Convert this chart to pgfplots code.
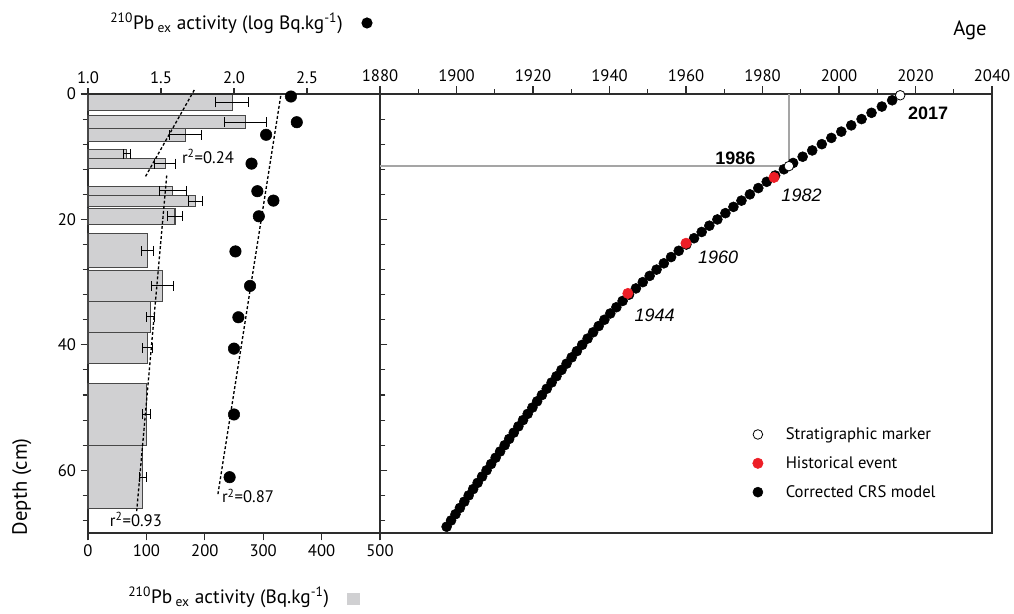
\documentclass[border=0pt]{standalone}
\usepackage{fontspec}
\setmainfont{PT Sans}
\newfontfamily\yearfont{Liberation Sans}
\usepackage{pgfplots}
\usepackage{pgfplotstable}
\pgfplotsset{compat=1.18}

\definecolor{barfill}{RGB}{208,208,210}
\definecolor{baredge}{RGB}{72,72,72}
\definecolor{evred}{RGB}{237,30,38}
\definecolor{axgray}{RGB}{45,45,45}
\definecolor{guide}{RGB}{165,165,165}

\newcommand{\fs}{\fontsize{12.5}{15}\selectfont}
\newcommand{\fl}{\fontsize{15.5}{18}\selectfont}
\newcommand{\ft}{\fontsize{14.5}{17}\selectfont}

% 210Pb_ex activity per slice: depth top/bottom (cm), mid depth, activity (Bq/kg), error
\pgfplotstableread{
top   bot   mid    val  err
0.0   2.66  1.33   247  28
3.5   5.5   4.5    270  36
5.5   7.5   6.5    167  27
8.8   10.3  9.55   66   6
10.3  11.9  11.1   132  18
14.7  16.2  15.45  145  23
16.2  18.0  17.1   184  12
18.2  20.8  19.5   149  13
22.3  27.7  25.0   102  10
28.1  33.1  30.6   128  19
33.1  38.0  35.55  107  7
38.0  43.0  40.5   102  8.5
46.1  56.1  51.1   100  7.5
56.1  66.1  61.1   94   6
}\pbbars

% log activity (dots)
\pgfplotstableread{
logA  depth
2.39  0.4
2.43  4.5
2.22  6.5
2.12  11.1
2.16  15.5
2.27  17.0
2.17  19.5
2.01  25.1
2.11  30.6
2.03  35.6
2.00  40.6
2.00  51.1
1.97  61.1
}\pblog

% corrected CRS model: year, depth
\pgfplotstableread{
year     depth
2013.9   1
2011.2   2
2008.5   3
2005.9   4
2003.2   5
2000.6   6
1998.0   7
1995.5   8
1993.0   9
1990.5   10
1988.0   11
1985.6   12
1983.3   13
1981.1   14
1978.9   15
1976.7   16
1974.5   17
1972.4   18
1970.3   19
1968.2   20
1966.1   21
1964.1   22
1962.1   23
1960.1   24
1958.1   25
1956.1   26
1954.2   27
1952.3   28
1950.5   29
1948.7   30
1946.9   31
1945.1   32
1943.42  33
1941.79  34
1940.20  35
1938.66  36
1937.17  37
1935.70  38
1934.26  39
1932.85  40
1931.47  41
1930.11  42
1928.77  43
1927.45  44
1926.14  45
1924.86  46
1923.59  47
1922.33  48
1921.08  49
1919.84  50
1918.61  51
1917.39  52
1916.18  53
1914.97  54
1913.77  55
1912.59  56
1911.40  57
1910.22  58
1909.04  59
1907.86  60
1906.69  61
1905.52  62
1904.35  63
1903.19  64
1902.04  65
1900.89  66
1899.74  67
1898.58  68
1897.41  69
}\crs

\pgfplotsset{
  panel/.style={
    scale only axis, height=329.25pt,
    ymin=0, ymax=70, y dir=reverse,
    axis line style={axgray, line width=0.9pt},
    every tick/.style={axgray, line width=0.8pt},
    tick label style={font=\fs},
    /pgf/number format/assume math mode=true,
    clip=false,
  },
}

\begin{document}
\begin{tikzpicture}
\useasboundingbox (-66pt,-60.75pt) rectangle (694.5pt,399.75pt);

% left panel, linear activity (bars)
\begin{axis}[panel, at={(0pt,0pt)}, anchor=south west, width=219pt,
  xmin=0, xmax=500, xtick={0,100,...,500},
  xtick pos=left, ytick pos=both, yticklabel pos=left, tick align=outside,
  ytick={0,20,40,60}, minor ytick={4,8,...,68},
  major tick length=5.5pt, minor tick length=4pt,
]
\pgfplotsinvokeforeach{0,...,13}{
  \pgfplotstablegetelem{#1}{top}\of\pbbars\edef\btop{\pgfplotsretval}
  \pgfplotstablegetelem{#1}{bot}\of\pbbars\edef\bbot{\pgfplotsretval}
  \pgfplotstablegetelem{#1}{val}\of\pbbars\edef\bval{\pgfplotsretval}
  \edef\tmp{\noexpand\addplot[fill=barfill, draw=baredge, line width=0.8pt]
    coordinates {(0,\btop) (\bval,\btop) (\bval,\bbot) (0,\bbot)} -- cycle;}
  \tmp
}
\addplot[draw=none, mark=none, forget plot,
  error bars/.cd, x dir=both, x explicit, error mark=|,
  error bar style={draw=black, line width=0.75pt},
  error mark options={draw=black, mark size=3.75pt, line width=0.75pt}]
  table[x=val, y=mid, x error=err] {\pbbars};
\addplot[black, line width=1pt, dash pattern=on 2.2pt off 1.6pt] coordinates {(182,-0.64) (97.6,13.3)};
\addplot[black, line width=1pt, dash pattern=on 2.2pt off 1.6pt] coordinates {(134.8,13.0) (83.4,66.5)};
\node[font=\fs] at (axis cs:205.5,10.0) {r\textsuperscript{2}=0.24};
\node[font=\fs] at (axis cs:82,67.8) {r\textsuperscript{2}=0.93};
\node[font=\fs] at (axis cs:274,64.1) {r\textsuperscript{2}=0.87};
\end{axis}

% left panel, log activity (dots)
\begin{axis}[panel, at={(0pt,0pt)}, anchor=south west, width=219pt,
  xmin=1, xmax=3, xtick={1,1.5,2,2.5},
  axis x line*=top, hide y axis, tick align=outside, major tick length=4.5pt,
  xticklabel style={/pgf/number format/.cd, fixed, fixed zerofill, precision=1},
]
\addplot[black, line width=1pt, dash pattern=on 2.2pt off 1.6pt] coordinates {(2.32,0.3) (1.89,63.8)};
\addplot[only marks, mark=*, mark size=4.3pt, black] table[x=logA, y=depth] {\pblog};
\end{axis}

% right panel, age model
\begin{axis}[panel, at={(219pt,0pt)}, anchor=south west, width=459pt,
  xmin=1880, xmax=2040, xtick={1880,1900,...,2040}, minor xtick={1890,1910,...,2030},
  xtick pos=right, xticklabel pos=right, tick align=outside,
  ytick=\empty,
  major tick length=6pt, minor tick length=3.75pt,
  xticklabel style={/pgf/number format/1000 sep={}},
  reverse legend,
  legend style={at={(0.602,0.253)}, anchor=north west, draw=none, fill=none,
    font=\fs, row sep=7.25pt, column sep=15pt},
  legend cell align=left,
]
\addplot[guide, line width=1pt, forget plot] coordinates {(1986.9,0) (1986.9,11.5)};
\addplot[guide, line width=1pt, forget plot] coordinates {(1880,11.5) (1986.9,11.5)};
\addplot[only marks, mark=*, mark size=3.75pt, black] table[x=year, y=depth] {\crs};
\addlegendentry{Corrected CRS model}
\addplot[only marks, mark=*, mark size=3.9pt, evred, mark options={draw=evred, fill=evred}]
  coordinates {(1944.8,31.8) (1960.0,23.8) (1983.0,13.3)};
\addlegendentry{Historical event}
\addplot[only marks, mark=*, mark size=3.6pt, mark options={fill=white, draw=black, line width=0.6pt}]
  coordinates {(2016.0,0.2) (1986.9,11.5)};
\addlegendentry{Stratigraphic marker}
\node[font=\yearfont\bfseries\fontsize{13.5}{15}\selectfont] at (axis cs:2023.3,3.0) {2017};
\node[font=\yearfont\bfseries\fontsize{13.5}{15}\selectfont] at (axis cs:1972.9,10.3) {1986};
\node[font=\yearfont\itshape\fontsize{13.5}{15}\selectfont] at (axis cs:1990.2,16.2) {1982};
\node[font=\yearfont\itshape\fontsize{13.5}{15}\selectfont] at (axis cs:1968.4,26.0) {1960};
\node[font=\yearfont\itshape\fontsize{13.5}{15}\selectfont] at (axis cs:1951.8,35.25) {1944};
\end{axis}

% titles and labels
\node[anchor=west, inner sep=0pt, font=\ft] at (16.5pt,382.5pt) {\textsuperscript{210}Pb\,\textsubscript{ex} activity (log Bq.kg\textsuperscript{-1})};
\fill[black] (209.25pt,382.5pt) circle (4.2pt);
\node[anchor=west, inner sep=0pt, font=\ft] at (30pt,-48pt) {\textsuperscript{210}Pb\,\textsubscript{ex} activity (Bq.kg\textsuperscript{-1})};
\fill[barfill] (194.25pt,-54pt) rectangle (204pt,-45pt);
\node[font=\fl] at (661.5pt,377.25pt) {Age};
\node[font=\fl, rotate=90] at (-49.7pt,34.7pt) {Depth (cm)};
\end{tikzpicture}
\end{document}
